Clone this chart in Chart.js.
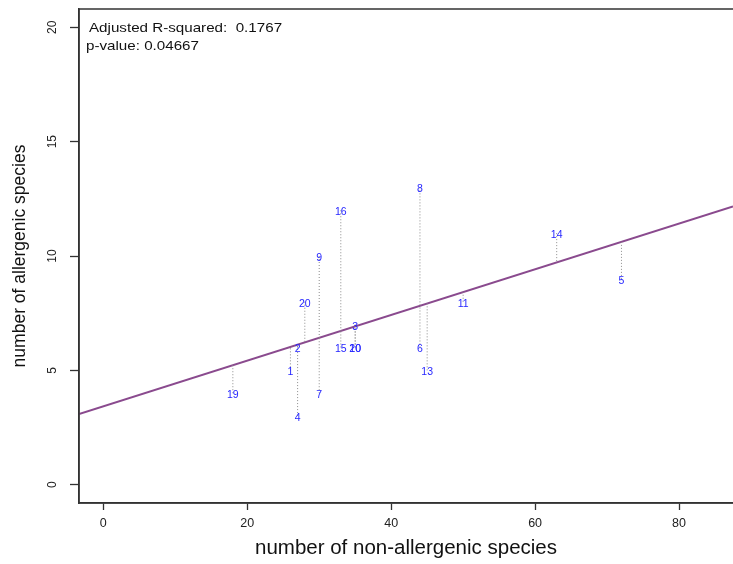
<!DOCTYPE html>
<html><head><meta charset="utf-8">
<script src="https://cdn.jsdelivr.net/npm/chart.js@4.4.1/dist/chart.umd.min.js"></script>
<style>html,body{margin:0;padding:0;background:#fff}#wrap{width:733px;height:564px;position:relative}canvas{display:block}</style>
</head><body><div id="wrap"><canvas id="c" width="733" height="564"></canvas></div>
<script>
// ---- data ----
const siteLabels    = ['1','2','3','4','5','6','7','8','9','10','11','13','14','15','16','19','20','20'];
const nonAllergenic = [26, 27, 35, 27, 72, 44, 30, 44, 30, 35, 50, 45, 63, 33, 33, 18, 28, 35];
const allergenic    = [ 5,  6,  7,  3,  9,  6,  4, 13, 10,  6,  8,  5, 11,  6, 12,  4,  8,  6];
const xTicks = [0, 20, 40, 60, 80];
const yTicks = [0, 5, 10, 15, 20];
const fitIntercept = 3.43;
const fitSlope = 0.0998;
const statsLines = ['Adjusted R-squared:  0.1767', 'p-value: 0.04667'];
const xTitle = 'number of non-allergenic species';
const yTitle = 'number of allergenic species';
const xRange = [-3.38, 87.5];
const yRange = [-0.8, 20.8];

const FONT = "'Liberation Sans', Arial, sans-serif";
const fitted = x => fitIntercept + fitSlope * x;

const datasets = [];
nonAllergenic.forEach((x, i) => {
  datasets.push({
    data: [{x: x, y: allergenic[i]}, {x: x, y: fitted(x)}],
    showLine: true, borderColor: '#8c8c8c', borderWidth: 1, borderDash: [1, 2],
    pointRadius: 0, pointHoverRadius: 0
  });
});
datasets.push({
  data: xRange.map(x => ({x: x, y: fitted(x)})),
  showLine: true, borderColor: '#8a4a8e', borderWidth: 2, pointRadius: 0
});
datasets.push({
  data: nonAllergenic.map((x, i) => ({x: x, y: allergenic[i]})),
  pointRadius: 0, pointHoverRadius: 0
});

const decor = {
  id: 'decor',
  afterDatasetsDraw(chart) {
    const ctx = chart.ctx, xs = chart.scales.x, ys = chart.scales.y;
    ctx.save();
    ctx.fillStyle = '#2626ff';
    ctx.font = '10.5px ' + FONT;
    ctx.textAlign = 'center';
    ctx.textBaseline = 'middle';
    nonAllergenic.forEach((x, i) => {
      ctx.fillText(siteLabels[i], xs.getPixelForValue(x), ys.getPixelForValue(allergenic[i]) + 2);
    });
    ctx.restore();
  },
  afterDraw(chart) {
    const ctx = chart.ctx, ys = chart.scales.y, a = chart.chartArea;
    ctx.save();
    ctx.strokeStyle = '#333';
    ctx.lineWidth = 1.5;
    ctx.strokeRect(a.left, a.top, a.right - a.left + 5, a.bottom - a.top);
    ctx.fillStyle = '#222';
    ctx.font = '12px ' + FONT;
    ctx.textAlign = 'center';
    ctx.textBaseline = 'middle';
    ys.ticks.forEach(t => {
      ctx.save();
      ctx.translate(a.left - 26, ys.getPixelForValue(t.value));
      ctx.rotate(-Math.PI / 2);
      ctx.fillText(String(t.value), 0, 0);
      ctx.restore();
    });
    ctx.fillStyle = '#111';
    ctx.font = '13.2px ' + FONT;
    ctx.textAlign = 'left';
    ctx.textBaseline = 'alphabetic';
    [[statsLines[0], 10, 23], [statsLines[1], 7, 41]].forEach(([t, dx, dy]) => {
      ctx.save();
      ctx.translate(a.left + dx, a.top + dy);
      ctx.scale(1.15, 1);
      ctx.fillText(t, 0, 0);
      ctx.restore();
    });
    ctx.restore();
  }
};

new Chart(document.getElementById('c'), {
  type: 'scatter',
  data: { datasets: datasets },
  options: {
    responsive: false,
    devicePixelRatio: 1,
    animation: false,
    events: [],
    layout: { padding: { top: 9, left: 0, right: 0, bottom: 0 } },
    plugins: { legend: { display: false }, tooltip: { enabled: false } },
    scales: {
      x: {
        type: 'linear', min: xRange[0], max: xRange[1],
        afterBuildTicks: s => { s.ticks = xTicks.map(v => ({value: v})); },
        afterFit: s => { s.height = 61; },
        ticks: { font: { family: FONT, size: 12.5 }, color: '#222', padding: 6, maxRotation: 0, autoSkip: false },
        grid: { drawOnChartArea: false, drawTicks: true, tickLength: 7, tickColor: '#333', tickWidth: 1.3 },
        border: { display: true, color: '#333', width: 1.5 },
        title: { display: true, text: xTitle, color: '#111', font: { family: FONT, size: 20.5 }, padding: { top: 0, bottom: 3 } }
      },
      y: {
        type: 'linear', min: yRange[0], max: yRange[1],
        afterBuildTicks: s => { s.ticks = yTicks.map(v => ({value: v})); },
        afterFit: s => { s.width = 79; },
        ticks: { display: false },
        grid: { drawOnChartArea: false, drawTicks: true, tickLength: 9, tickColor: '#333', tickWidth: 1.3 },
        border: { display: true, color: '#333', width: 1.5 },
        title: { display: true, text: yTitle, color: '#111', font: { family: FONT, size: 17.5 }, padding: { top: 9.5, bottom: 0 } }
      }
    }
  },
  plugins: [decor]
});
</script>
</body></html>
